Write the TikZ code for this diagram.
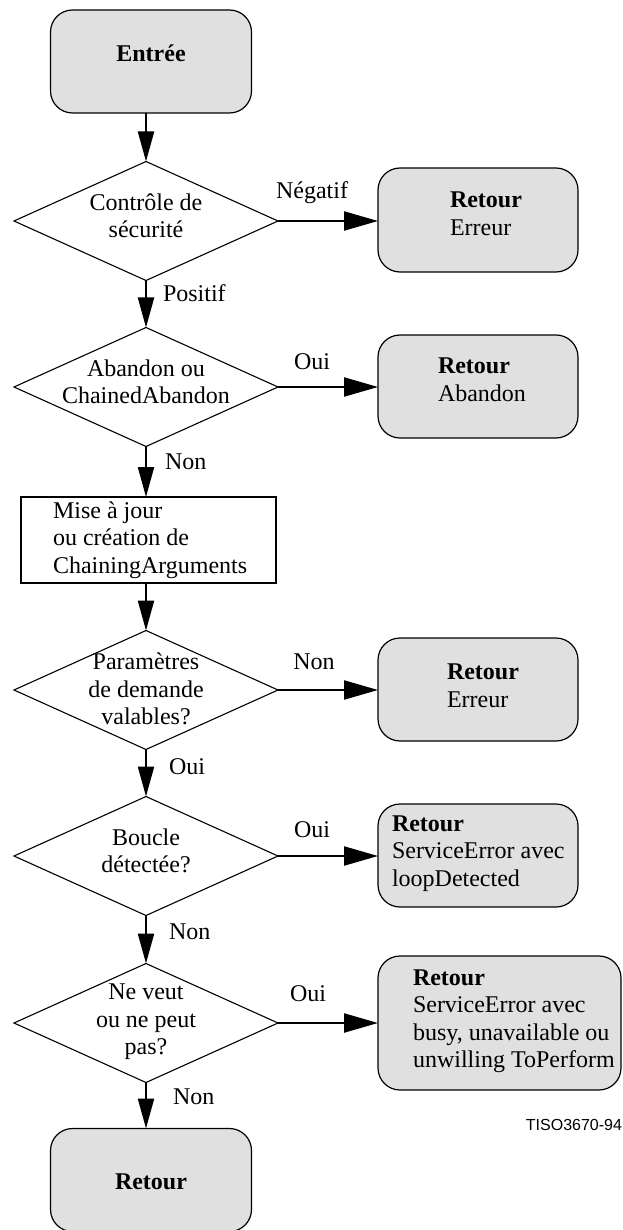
\documentclass[tikz,border=0pt]{standalone}
\usepackage{fontspec}
\setmainfont{Liberation Serif}
\newfontfamily\tisofont{Liberation Sans}
\usetikzlibrary{shapes.geometric,arrows.meta}
\definecolor{termgray}{HTML}{E0E0E0}
\begin{document}
\begin{tikzpicture}[x=1pt,y=-1pt,
  every node/.style={font=\fontsize{24}{27.5}\selectfont, inner sep=0pt, outer sep=0pt},
  termbox/.style={draw, line width=1.2pt, fill=termgray, rectangle, rounded corners=22pt},
  procbox/.style={draw, line width=1.1pt, rectangle},
  decision/.style={draw, line width=1.1pt, diamond, minimum width=264pt, minimum height=119pt},
  dtxt/.style={align=center},
  boxtxt/.style={anchor=west, align=left},
  lbl/.style={anchor=center},
  lblw/.style={anchor=west},
  conn/.style={line width=2.2pt, -{Triangle[length=30pt,width=16pt]}},
  hconn/.style={line width=2.2pt, -{Triangle[length=34pt,width=19pt]}}
]
\useasboundingbox (0,0) rectangle (623,1230);

% left column
\node[termbox, minimum width=201pt, minimum height=103pt] (entree) at (151,61.5) {};
\node (entreeT) at (151,53) {\textbf{Entrée}};
\node[decision] (d1) at (146,221) {};
\node[dtxt] (d1T) at (146,216) {Contrôle de\\sécurité};
\node[decision] (d2) at (146,387) {};
\node[dtxt] (d2T) at (146,382) {Abandon ou\\ChainedAbandon};
\node[procbox, minimum width=255pt, minimum height=86pt] (upd) at (148.5,540) {};
\node[boxtxt] (updT) at (53,540) {Mise à jour\\ou création de\\ChainingArguments};
\node[decision] (d3) at (146,690) {};
\node[dtxt] (d3T) at (146,689) {Paramètres\\de demande\\valables?};
\node[decision] (d4) at (146,856) {};
\node[dtxt] (d4T) at (146,851) {Boucle\\détectée?};
\node[decision] (d5) at (146,1023) {};
\node[dtxt] (d5T) at (146,1022) {Ne veut\\ou ne peut\\pas?};
\node[termbox, minimum width=201pt, minimum height=103pt] (ret) at (151,1180) {};
\node (retT) at (151,1182) {\textbf{Retour}};

% right column
\node[termbox, minimum width=200pt, minimum height=104pt] (r1) at (478,220) {};
\node[boxtxt] (r1T) at (450,214) {\textbf{Retour}\\Erreur};
\node[termbox, minimum width=200pt, minimum height=103pt] (r2) at (478,386.5) {};
\node[boxtxt] (r2T) at (438,380) {\textbf{Retour}\\Abandon};
\node[termbox, minimum width=200pt, minimum height=103pt] (r3) at (478,689.5) {};
\node[boxtxt] (r3T) at (447,686) {\textbf{Retour}\\Erreur};
\node[termbox, minimum width=200pt, minimum height=103pt] (r4) at (478,855.5) {};
\node[boxtxt] (r4T) at (392,853.5) {\textbf{Retour}\\ServiceError avec\\loopDetected};
\node[termbox, minimum width=243pt, minimum height=134pt] (r5) at (499.5,1023) {};
\node[boxtxt] (r5T) at (413,1021) {\textbf{Retour}\\ServiceError avec\\busy, unavailable ou\\unwilling ToPerform};

% vertical connectors
\draw[conn] (entree.south -| d1.north) -- (d1.north);
\draw[conn] (d1.south) -- (d2.north);
\draw[conn] (d2.south) -- (upd.north -| d2.south);
\draw[conn] (upd.south -| d3.north) -- (d3.north);
\draw[conn] (d3.south) -- (d4.north);
\draw[conn] (d4.south) -- (d5.north);
\draw[conn] (d5.south) -- (ret.north -| d5.south);

% horizontal connectors
\draw[hconn] (d1.east) -- (d1.east -| r1.west);
\draw[hconn] (d2.east) -- (d2.east -| r2.west);
\draw[hconn] (d3.east) -- (d3.east -| r3.west);
\draw[hconn] (d4.east) -- (d4.east -| r4.west);
\draw[hconn] (d5.east) -- (d5.east -| r5.west);

% labels
\node[lbl] (l1) at (312,193) {Négatif};
\node[lbl] (l2) at (312,362) {Oui};
\node[lbl] (l3) at (314,662) {Non};
\node[lbl] (l4) at (312,830) {Oui};
\node[lbl] (l5) at (308,994) {Oui};
\node[lblw] (b1) at (163,293) {Positif};
\node[lblw] (b2) at (165,462) {Non};
\node[lblw] (b3) at (169,767) {Oui};
\node[lblw] (b4) at (169,932) {Non};
\node[lblw] (b5) at (173,1097) {Non};

\node[anchor=east, font=\tisofont\fontsize{16}{19}\selectfont] (tiso) at (622,1125) {TISO3670-94};
\end{tikzpicture}
\end{document}
